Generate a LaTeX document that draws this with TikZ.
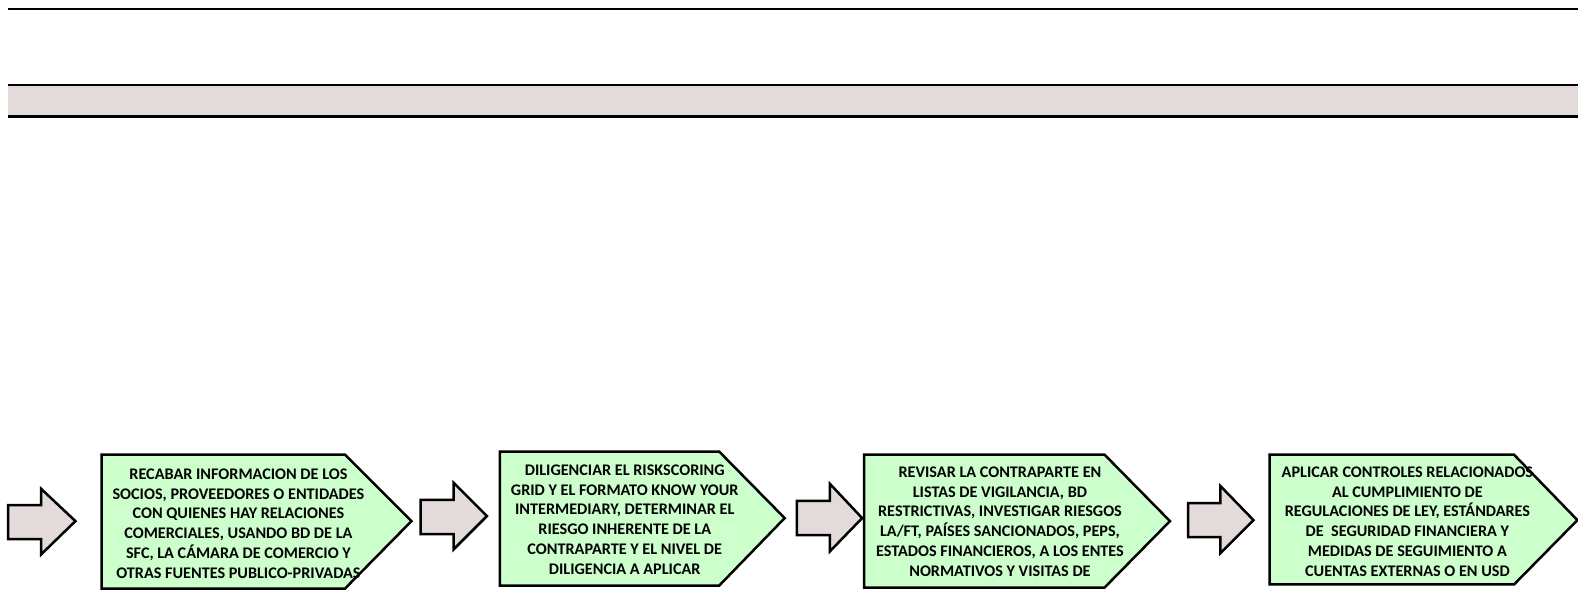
\documentclass[tikz,border=0pt]{standalone}
\usepackage{fontspec}
\setmainfont{Carlito}
\definecolor{bandfill}{HTML}{E3DBDA}
\definecolor{boxfill}{HTML}{CCFFCC}
\tikzset{
  stepshape/.style={draw=black, fill=boxfill, line width=2.5pt, line join=miter},
  blockarrow/.style={draw=black, fill=bandfill, line width=2.5pt, line join=miter},
  steptext/.style={align=center, font=\bfseries\fontsize{16.2}{19.8}\selectfont, inner sep=0pt},
}
\begin{document}
\begin{tikzpicture}[x=1pt,y=-1pt]
\useasboundingbox (0,0) rectangle (1578,608);
\fill[white] (0,0) rectangle (1578,608);
% header
\draw[line width=1.4pt] (8,9) -- (1578,9);
\fill[bandfill] (8,85) rectangle (1578,116.5);
\draw[line width=2.8pt] (8,85) -- (1578,85);
\draw[line width=2.8pt] (8,116.5) -- (1578,116.5);
\begin{scope}[scale=1.006]
% block arrows
\draw[blockarrow] (8,502) -- (41,502) -- (41,486) -- (75,518) -- (41,551) -- (41,536) -- (8,536) -- cycle;
\draw[blockarrow] (418,497) -- (451,497) -- (451,480) -- (484,513) -- (451,546) -- (451,531) -- (418,531) -- cycle;
\draw[blockarrow] (792,498) -- (825,498) -- (825,481) -- (857,515) -- (825,548) -- (825,532) -- (792,532) -- cycle;
\draw[blockarrow] (1181,500) -- (1213,500) -- (1213,483) -- (1246,517) -- (1213,550) -- (1213,534) -- (1181,534) -- cycle;
% step shapes
\draw[stepshape] (101,452) -- (343,452) -- (409,518) -- (343,585) -- (101,585) -- cycle;
\draw[stepshape] (497,449) -- (715,449) -- (780,515) -- (715,582) -- (497,582) -- cycle;
\draw[stepshape] (859,452) -- (1098,452) -- (1163,518) -- (1098,584) -- (859,584) -- cycle;
\draw[stepshape] (1262,452) -- (1505,452) -- (1568,517) -- (1505,581) -- (1262,581) -- cycle;
% texts
\node[steptext] (t1) at (237,520.5) {RECABAR INFORMACION DE LOS\\SOCIOS, PROVEEDORES O ENTIDADES\\CON QUIENES HAY RELACIONES\\COMERCIALES, USANDO BD DE LA\\SFC, LA CÁMARA DE COMERCIO Y\\OTRAS FUENTES PUBLICO-PRIVADAS};
\node[steptext] (t2) at (621,516.5) {DILIGENCIAR EL RISKSCORING\\GRID Y EL FORMATO KNOW YOUR\\INTERMEDIARY, DETERMINAR EL\\RIESGO INHERENTE DE LA\\CONTRAPARTE Y EL NIVEL DE\\DILIGENCIA A APLICAR};
\node[steptext] (t3) at (994,518.5) {REVISAR LA CONTRAPARTE EN\\LISTAS DE VIGILANCIA, BD\\RESTRICTIVAS, INVESTIGAR RIESGOS\\LA/FT, PAÍSES SANCIONADOS, PEPS,\\ESTADOS FINANCIEROS, A LOS ENTES\\NORMATIVOS Y VISITAS DE};
\node[steptext] (t4) at (1399,518.5) {APLICAR CONTROLES RELACIONADOS\\AL CUMPLIMIENTO DE\\REGULACIONES DE LEY, ESTÁNDARES\\DE \ SEGURIDAD FINANCIERA Y\\MEDIDAS DE SEGUIMIENTO A\\CUENTAS EXTERNAS O EN USD};
\end{scope}
\end{tikzpicture}
\end{document}
